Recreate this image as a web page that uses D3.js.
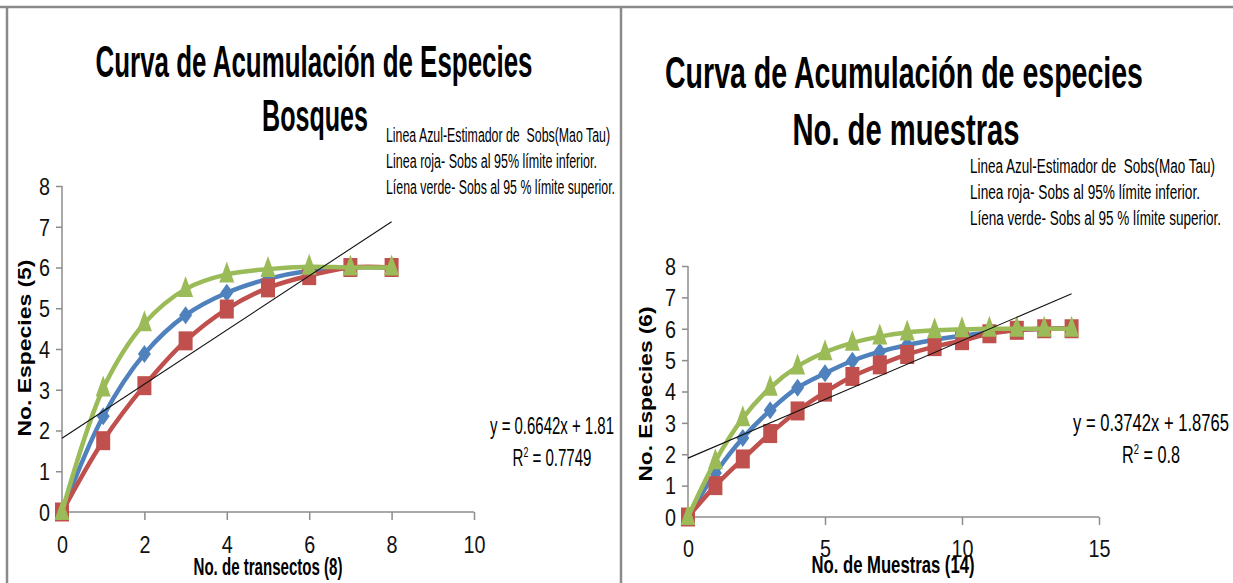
<!DOCTYPE html>
<html>
<head>
<meta charset="utf-8">
<script src="https://cdn.jsdelivr.net/npm/d3@7"></script>
<style>
  html, body { margin: 0; padding: 0; background: #fff; }
  svg { display: block; }
  text { font-family: "Liberation Sans", Arial, sans-serif; white-space: pre; }
</style>
</head>
<body>
<svg id="chart" width="1233" height="583"></svg>
<script>
// ---------- DATA ----------
const leftX = [0, 1, 2, 3, 4, 5, 6, 7, 8];
const leftBlue = [0, 2.35, 3.88, 4.83, 5.38, 5.72, 5.92, 6, 6];
const leftRed = [0, 1.75, 3.1, 4.2, 4.98, 5.5, 5.8, 6, 6];
const leftGreen = [0, 3.03, 4.63, 5.47, 5.83, 5.96, 6.02, 6, 6];
const leftXTicks = [0, 2, 4, 6, 8, 10];
const leftYTicks = [0, 1, 2, 3, 4, 5, 6, 7, 8];
const leftTrend = { slope: 0.6642, intercept: 1.81, r2: "0.7749" };

const rightX = [0, 1, 2, 3, 4, 5, 6, 7, 8, 9, 10, 11, 12, 13, 14];
const rightBlue = [0, 1.4, 2.52, 3.4, 4.12, 4.58, 4.98, 5.27, 5.48, 5.65, 5.78, 5.88, 5.95, 6, 6];
const rightRed = [0, 1.0, 1.85, 2.66, 3.38, 3.98, 4.48, 4.85, 5.18, 5.43, 5.62, 5.84, 5.95, 6, 6];
const rightGreen = [0, 1.78, 3.15, 4.12, 4.8, 5.25, 5.55, 5.75, 5.88, 5.95, 5.98, 6, 6, 6, 6];
const rightXTicks = [0, 5, 10, 15];
const rightYTicks = [0, 1, 2, 3, 4, 5, 6, 7, 8];
const rightTrend = { slope: 0.3742, intercept: 1.8765, r2: "0.8" };

const legendLines = [
  "Linea Azul-Estimador de  Sobs(Mao Tau)",
  "Linea roja- Sobs al 95% límite inferior.",
  "Líena verde- Sobs al 95 % límite superior."
];

const COLORS = { blue: "#4F81BD", red: "#C0504D", green: "#9BBB59" };

// ---------- DRAW ----------
const svg = d3.select("#chart");

// panel frames
svg.append("line").attr("x1", 0).attr("x2", 1233).attr("y1", 7).attr("y2", 7)
  .attr("stroke", "#8a8a8a").attr("stroke-width", 2.5);
svg.append("line").attr("x1", 7).attr("x2", 7).attr("y1", 7).attr("y2", 583)
  .attr("stroke", "#8a8a8a").attr("stroke-width", 2.5);
svg.append("line").attr("x1", 621).attr("x2", 621).attr("y1", 7).attr("y2", 583)
  .attr("stroke", "#8a8a8a").attr("stroke-width", 2.5);

function fitText(g, str, x, y, width, opts) {
  const t = g.append("text")
    .attr("x", x).attr("y", y)
    .attr("text-anchor", opts.anchor || "start")
    .attr("font-size", opts.size)
    .attr("font-weight", opts.weight || "normal")
    .attr("fill", opts.fill || "#000")
    .text(str);
  if (width) t.attr("textLength", width).attr("lengthAdjust", "spacingAndGlyphs");
  if (opts.transform) t.attr("transform", opts.transform);
  return t;
}

function markerPath(type, w, h) {
  const a = w / 2, b = h / 2;
  if (type === "diamond") return `M0,${-b}L${a},0L0,${b}L${-a},0Z`;
  if (type === "square") return `M${-a},${-b}H${a}V${b}H${-a}Z`;
  return `M0,${-h * 0.62}L${a},${h * 0.38}L${-a},${h * 0.38}Z`;
}

function panel(cfg) {
  const g = svg.append("g");
  const x = d3.scaleLinear().domain(cfg.xDomain).range(cfg.xRange);
  const y = d3.scaleLinear().domain([0, 8]).range(cfg.yRange);

  // axes
  const xAxis = d3.axisBottom(x).tickValues(cfg.xTicks).tickSize(8).tickFormat(d3.format("d"));
  const gx = g.append("g").attr("transform", `translate(0,${y(0)})`).call(xAxis);
  const yAxis = d3.axisLeft(y).tickValues(cfg.yTicks).tickSize(6).tickFormat(d3.format("d"));
  const gy = g.append("g").attr("transform", `translate(${x(0)},0)`).call(yAxis);
  [gx, gy].forEach(ax => {
    ax.select(".domain").attr("stroke", "#8c8c8c").attr("stroke-width", 1.5);
    ax.selectAll(".tick line").attr("stroke", "#8c8c8c").attr("stroke-width", 1.5);
    ax.selectAll(".tick text").attr("font-size", 23).attr("fill", "#111")
      .attr("textLength", d => String(d).length * 11)
      .attr("lengthAdjust", "spacingAndGlyphs");
  });
  gy.select(".domain").attr("d", `M0,${y(8)}V${y(0)}`);
  gx.select(".domain").attr("d", `M${x(cfg.xDomain[0])},0H${x(cfg.xDomain[1])}`);
  gx.selectAll(".tick text").attr("dy", cfg.xLabelDy);
  gy.selectAll(".tick text").attr("dx", -3).attr("dy", "0.36em");
  gx.selectAll(".tick").filter(d => d === 0).select("line").attr("stroke-opacity", 0);

  // series
  const series = [
    { vals: cfg.blue, color: COLORS.blue, m: "diamond", w: 13, h: 18 },
    { vals: cfg.red, color: COLORS.red, m: "square", w: 14, h: 19 },
    { vals: cfg.green, color: COLORS.green, m: "triangle", w: 15, h: 21 }
  ];
  const line = d3.line().x(d => x(d[0])).y(d => y(d[1])).curve(d3.curveCatmullRom.alpha(0.5));
  series.forEach(s => {
    const pts = cfg.xs.map((xv, i) => [xv, s.vals[i]]);
    g.append("path").datum(pts).attr("d", line)
      .attr("fill", "none").attr("stroke", s.color).attr("stroke-width", 4.5)
      .attr("stroke-linejoin", "round");
    g.selectAll(null).data(pts).enter().append("path")
      .attr("transform", d => `translate(${x(d[0])},${y(d[1])})`)
      .attr("d", markerPath(s.m, s.w, s.h))
      .attr("fill", s.color);
  });

  // trend line
  const t = cfg.trend;
  const xEnd = cfg.xs[cfg.xs.length - 1];
  g.append("line")
    .attr("x1", x(0)).attr("y1", y(t.intercept))
    .attr("x2", x(xEnd)).attr("y2", y(t.slope * xEnd + t.intercept))
    .attr("stroke", "#111").attr("stroke-width", 1.1);

  // equation
  fitText(g, `y = ${t.slope}x + ${t.intercept}`, cfg.eq.x, cfg.eq.y1, cfg.eq.w1, { size: 24, anchor: "middle" });
  const r = g.append("text").attr("x", cfg.eq.x).attr("y", cfg.eq.y2)
    .attr("text-anchor", "middle").attr("font-size", 24)
    .attr("textLength", cfg.eq.w2).attr("lengthAdjust", "spacingAndGlyphs");
  r.append("tspan").text("R");
  r.append("tspan").attr("font-size", 14).attr("dy", -9).text("2");
  r.append("tspan").attr("dy", 9).text(` = ${t.r2}`);

  // titles
  fitText(g, cfg.title1, cfg.tx, cfg.ty1, cfg.tw1, { size: 44, weight: "bold", anchor: "middle" });
  fitText(g, cfg.title2, cfg.tx2, cfg.ty2, cfg.tw2, { size: 44, weight: "bold", anchor: "middle" });

  // legend notes
  legendLines.forEach((s, i) => {
    fitText(g, s, cfg.lx, cfg.ly + i * 26, cfg.lw[i], { size: 20 });
  });

  // axis titles
  fitText(g, cfg.yTitle, 0, 0, cfg.yt.w, {
    size: 19, weight: "bold", anchor: "middle",
    transform: `translate(${cfg.yt.x},${cfg.yt.y}) rotate(-90)`
  }).attr("font-family", "'DejaVu Sans', Verdana, sans-serif");
  fitText(g, cfg.xTitle, cfg.xt.x, cfg.xt.y, cfg.xt.w, { size: 23, weight: "bold", anchor: "middle" });
}

panel({
  xs: leftX, blue: leftBlue, red: leftRed, green: leftGreen,
  xDomain: [0, 10], xRange: [62, 474], yRange: [512, 186],
  xTicks: leftXTicks, yTicks: leftYTicks, xLabelDy: "1.3em",
  trend: leftTrend,
  eq: { x: 552, y1: 434, y2: 466, w1: 124, w2: 79 },
  title1: "Curva de Acumulación de Especies", tx: 314, ty1: 77, tw1: 437,
  title2: "Bosques", tx2: 315, ty2: 131, tw2: 106,
  lx: 386, ly: 142, lw: [224, 211, 229],
  yTitle: "No. Especies (5)", yt: { x: 31, y: 348, w: 177 },
  xTitle: "No. de transectos (8)", xt: { x: 268, y: 575, w: 149 }
});

panel({
  xs: rightX, blue: rightBlue, red: rightRed, green: rightGreen,
  xDomain: [0, 15], xRange: [688, 1099], yRange: [517, 266],
  xTicks: rightXTicks, yTicks: rightYTicks, xLabelDy: "1.25em",
  trend: rightTrend,
  eq: { x: 1151, y1: 431, y2: 463, w1: 156, w2: 58 },
  title1: "Curva de Acumulación de especies", tx: 904, ty1: 88, tw1: 478,
  title2: "No. de muestras", tx2: 906, ty2: 145, tw2: 227,
  lx: 970, ly: 173, lw: [245, 230, 251],
  yTitle: "No. Especies (6)", yt: { x: 652, y: 394, w: 175 },
  xTitle: "No. de Muestras (14)", xt: { x: 893, y: 573, w: 163 }
});
</script>
</body>
</html>
